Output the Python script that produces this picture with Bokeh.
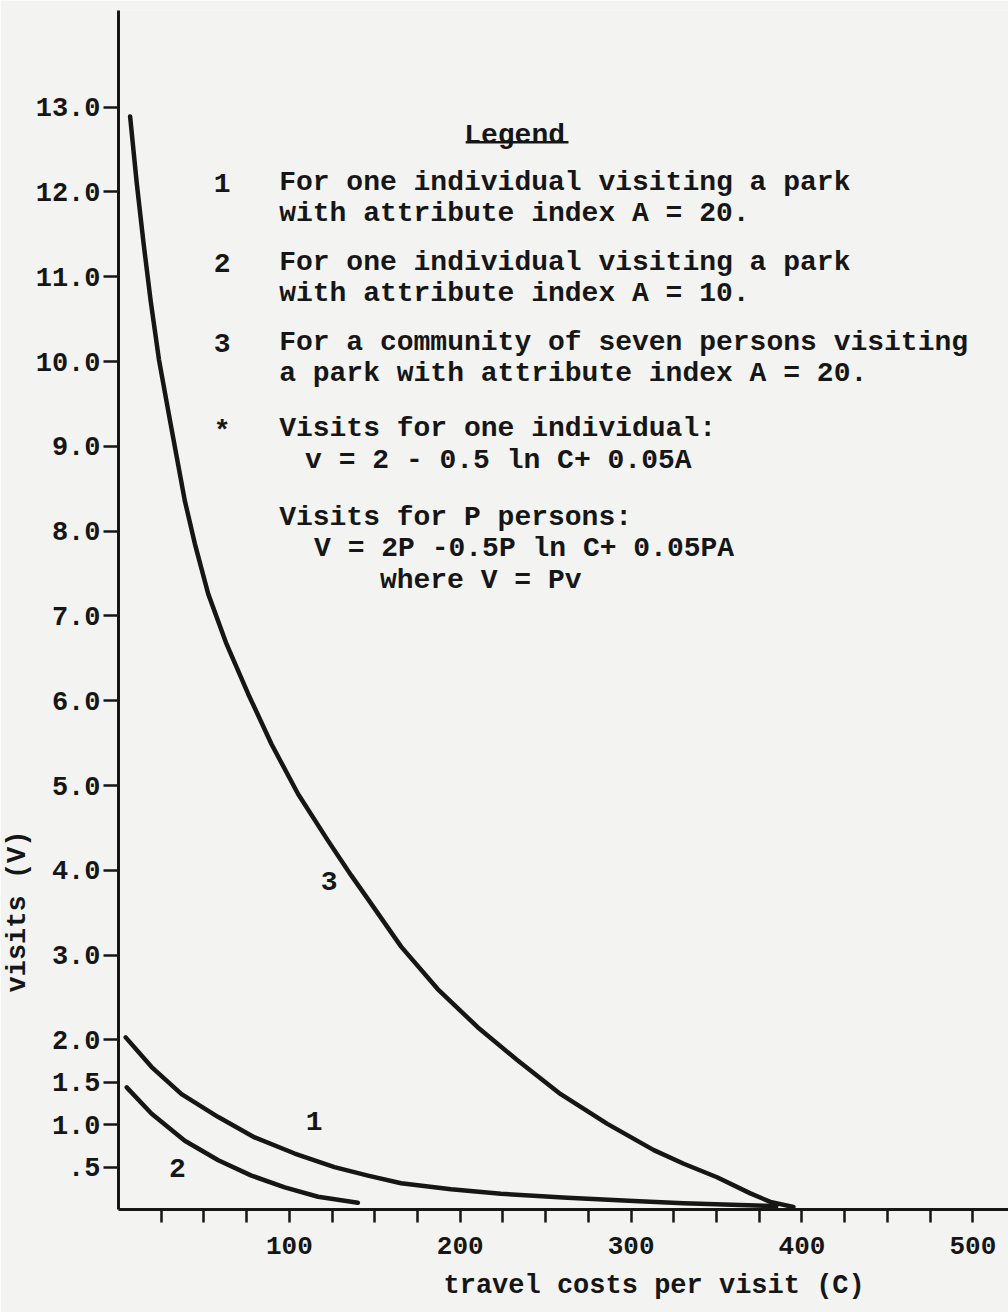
from bokeh.plotting import figure
from bokeh.models import Range1d, FixedTicker, NumeralTickFormatter, Label, BoxAnnotation, Title
from bokeh.embed import file_html
from bokeh.resources import INLINE

# ---------------- data ----------------
# curve 1: one individual, A = 20
cost_1 = [4.2, 19.4, 36.9, 58.4, 79.7, 103.1, 126.4, 146.0, 165.4, 194.6, 223.8, 262.7, 301.6, 330.8, 385.0]
visits_1 = [2.03, 1.68, 1.36, 1.09, 0.85, 0.66, 0.50, 0.40, 0.31, 0.24, 0.185, 0.14, 0.10, 0.075, 0.04]

# curve 2: one individual, A = 10
cost_2 = [4.8, 19.4, 38.8, 58.4, 77.8, 97.3, 116.8, 140.1]
visits_2 = [1.44, 1.13, 0.81, 0.58, 0.40, 0.26, 0.15, 0.08]

# curve 3: community of seven persons, A = 20
cost_3 = [6.8, 10.7, 14.7, 18.8, 23.7, 30.1, 38.8, 44.7, 52.5, 63.2, 75.9, 89.5, 105.1, 122.6,
          136.2, 146.0, 165.4, 186.8, 210.2, 233.5, 258.8, 286.1, 313.3, 330.8, 350.3, 369.8, 381.5, 395.0]
visits_3 = [12.89, 12.10, 11.39, 10.72, 10.02, 9.31, 8.36, 7.85, 7.26, 6.67, 6.08, 5.49, 4.90, 4.35,
            3.94, 3.66, 3.10, 2.60, 2.15, 1.76, 1.36, 1.01, 0.70, 0.54, 0.38, 0.19, 0.09, 0.03]

y_ticks = [0.5, 1.0, 1.5, 2.0, 3.0, 4.0, 5.0, 6.0, 7.0, 8.0, 9.0, 10.0, 11.0, 12.0, 13.0]
y_tick_labels = [".5", "1.0", "1.5", "2.0", "3.0", "4.0", "5.0", "6.0", "7.0", "8.0", "9.0",
                 "10.0", "11.0", "12.0", "13.0"]
x_major_ticks = [100, 200, 300, 400, 500]
x_minor_ticks = [25, 50, 75, 125, 150, 175, 225, 250, 275, 325, 350, 375, 425, 450, 475]

curve_names = ["1", "2", "3"]
legend_title = "Legend"
legend_numbers = ["1", "2", "3", "*"]
legend_lines = [
    "For one individual visiting a park",
    "with attribute index  A = 20.",
    "For one individual visiting a park",
    "with attribute index  A = 10.",
    "For a community of seven persons visiting",
    "a park with attribute index  A = 20.",
    "Visits for one individual:",
    "v = 2 - 0.5 ln C+ 0.05A",
    "Visits for P persons:",
    "V = 2P -0.5P ln C+ 0.05PA",
    "where V = Pv",
]
x_axis_title = "travel costs per visit (C)"
y_axis_title = "visits (V)"

# ---------------- layout ----------------
W, H = 1008, 1312
FL, FR, FT, FB = 116, 1008, 10, 1209   # frame edges in picture pixels
PX_PER_C = 1.7125
X_MAX = (FR - FL) / PX_PER_C
Y_MAX = 14.14


def dx(wx):
    return (wx - FL) * X_MAX / (FR - FL)


def dy(wy):
    return (FB - wy) * Y_MAX / (FB - FT)


INK = "#161616"
PAPER = "#f3f3f1"
FONT = "Liberation Mono"

p = figure(width=W, height=H, x_range=Range1d(0, X_MAX), y_range=Range1d(0, Y_MAX),
           output_backend="svg", toolbar_location=None,
           min_border_left=FL, min_border_right=W - FR, min_border_top=FT, min_border_bottom=H - FB)
p.background_fill_color = PAPER
p.border_fill_color = PAPER
p.outline_line_color = None
p.grid.visible = False

# axes
p.yaxis.ticker = FixedTicker(ticks=y_ticks, minor_ticks=[])
p.yaxis.formatter = NumeralTickFormatter(format="0.0")
p.yaxis.major_label_overrides = {t: s for t, s in zip(y_ticks, y_tick_labels)}
p.xaxis.ticker = FixedTicker(ticks=x_major_ticks, minor_ticks=x_minor_ticks)
for ax in (p.xaxis, p.yaxis):
    ax.axis_line_color = INK
    ax.axis_line_width = 3
    ax.major_tick_line_color = INK
    ax.major_tick_line_width = 2.5
    ax.minor_tick_line_color = INK
    ax.minor_tick_line_width = 2.5
    ax.major_tick_in = 0
    ax.minor_tick_in = 0
    ax.major_label_text_color = INK
    ax.major_label_text_font = FONT
p.yaxis.major_tick_out = 15
p.yaxis.major_label_standoff = 3
p.yaxis.major_label_text_font_size = "27px"
p.yaxis.major_label_text_font_style = "bold"
p.xaxis.major_tick_out = 13
p.xaxis.minor_tick_out = 13
p.xaxis.major_label_standoff = 14
p.xaxis.major_label_text_font_size = "26px"
p.xaxis.major_label_text_font_style = "bold"

# axis titles as side titles, placed along the axis like the original
p.add_layout(Title(text=x_axis_title, align="left", offset=441 - FL, standoff=24,
                   text_font=FONT, text_font_size="27px", text_font_style="bold",
                   text_color=INK), "below")
p.add_layout(Title(text=y_axis_title, align="left", offset=FB - 992, standoff=0,
                   text_font=FONT, text_font_size="27px", text_font_style="bold",
                   text_color=INK), "left")

# curves
for cx, cy in ((cost_1, visits_1), (cost_2, visits_2), (cost_3, visits_3)):
    p.line(cx, cy, line_color=INK, line_width=4.5, line_join="round", line_cap="round")


def lab(text, wx, wy, align="left", baseline="alphabetic", size="28px", style="bold", angle=0):
    p.add_layout(Label(x=dx(wx), y=dy(wy), text=text, text_font=FONT, text_font_size=size,
                       text_font_style=style, text_color=INK, text_align=align,
                       text_baseline=baseline, angle=angle))


# curve labels
lab(curve_names[0], 312, 1120, align="center", baseline="middle")
lab(curve_names[1], 175, 1167, align="center", baseline="middle")
lab(curve_names[2], 327, 880, align="center", baseline="middle")

# legend block
lab(legend_title, 513, 135, align="center")
p.add_layout(BoxAnnotation(left=dx(464), right=dx(567), top=dy(140.5), bottom=dy(143),
                           fill_color=INK, fill_alpha=1, line_color=None))
num_rows = [182, 262, 342, 431]
for n, wy in zip(legend_numbers, num_rows):
    lab(n, 220, wy, align="center")
line_pos = [(277, 182), (277, 213), (277, 262), (277, 293), (277, 342), (277, 373),
            (277, 428), (303, 460), (277, 517), (312, 548), (378, 580)]
for t, (wx, wy) in zip(legend_lines, line_pos):
    lab(t, wx, wy)

open("out.html", "w").write(file_html(p, INLINE))
